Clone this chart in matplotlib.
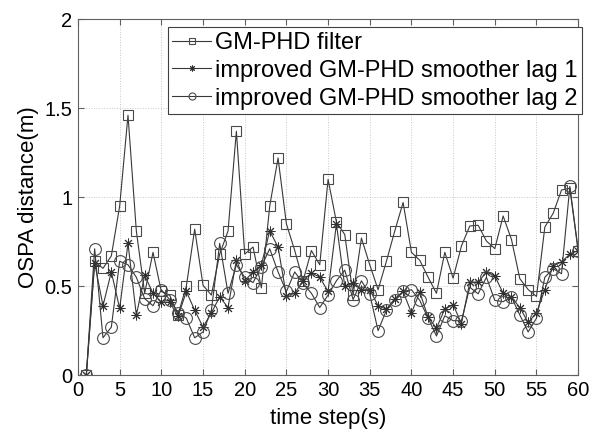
import matplotlib
matplotlib.use("Agg")
import matplotlib.pyplot as plt

plt.rcParams['font.family'] = ['Liberation Sans', 'DejaVu Sans']

# time steps 1..60
t = list(range(1, 61))

gm_phd = [0, 0.64, 0.60, 0.67, 0.95, 1.46, 0.81, 0.46, 0.69, 0.47,
          0.45, 0.34, 0.50, 0.82, 0.505, 0.45, 0.68, 0.81, 1.37, 0.68,
          0.72, 0.49, 0.95, 1.22, 0.85, 0.70, 0.53, 0.70, 0.62, 1.10,
          0.86, 0.79, 0.45, 0.77, 0.62, 0.48, 0.64, 0.81, 0.97, 0.69,
          0.645, 0.55, 0.46, 0.69, 0.545, 0.726, 0.838, 0.842, 0.753, 0.711,
          0.894, 0.762, 0.542, 0.481, 0.442, 0.832, 0.909, 1.04, 1.05, 0.70]

lag1 = [0, 0.63, 0.39, 0.58, 0.375, 0.74, 0.337, 0.56, 0.46, 0.41,
        0.41, 0.33, 0.47, 0.365, 0.27, 0.35, 0.44, 0.38, 0.646, 0.53,
        0.58, 0.62, 0.81, 0.72, 0.445, 0.46, 0.53, 0.575, 0.55, 0.47,
        0.85, 0.50, 0.515, 0.48, 0.48, 0.39, 0.37, 0.43, 0.47, 0.35,
        0.466, 0.325, 0.264, 0.372, 0.396, 0.29, 0.523, 0.523, 0.579, 0.557,
        0.46, 0.438, 0.38, 0.296, 0.35, 0.48, 0.615, 0.636, 0.68, 0.70]

lag2 = [0, 0.71, 0.21, 0.27, 0.64, 0.62, 0.55, 0.43, 0.39, 0.48,
        0.425, 0.35, 0.32, 0.21, 0.243, 0.365, 0.74, 0.46, 0.62, 0.55,
        0.52, 0.61, 0.71, 0.58, 0.47, 0.58, 0.515, 0.46, 0.38, 0.45,
        0.53, 0.59, 0.425, 0.53, 0.455, 0.25, 0.365, 0.42, 0.47, 0.48,
        0.42, 0.32, 0.22, 0.334, 0.306, 0.306, 0.494, 0.457, 0.55, 0.42,
        0.413, 0.438, 0.338, 0.243, 0.32, 0.55, 0.598, 0.57, 1.06, 0.70]

labels = ['GM-PHD filter', 'improved GM-PHD smoother lag 1',
          'improved GM-PHD smoother lag 2']

fig = plt.figure(figsize=(5.93, 4.44), dpi=100)
ax = fig.add_axes([0.1315, 0.155, 0.8435, 0.802])

line_c = '#383838'
ax.plot(t, gm_phd, '-', color=line_c, lw=0.8, marker='s', ms=6.5,
        mfc='none', mec='#4a4a4a', mew=0.8, label=labels[0])
ax.plot(t, lag1, '-', color=line_c, lw=0.8, marker=(8, 2, 0), ms=7,
        mfc='none', mec='#303030', mew=0.7, label=labels[1])
ax.plot(t, lag2, '-', color=line_c, lw=0.8, marker='o', ms=8.5,
        mfc='none', mec='#4a4a4a', mew=0.8, label=labels[2])

ax.set_xlim(0, 60)
ax.set_ylim(0, 2)
ax.set_xticks(range(0, 61, 5))
ax.set_yticks([0, 0.5, 1, 1.5, 2])
ax.set_yticklabels(['0', '0.5', '1', '1.5', '2'])
ax.grid(True, linestyle=':', color='#c8c8c8', lw=0.7)
ax.tick_params(direction='in', top=True, right=True, labelsize=14.5,
               color='#606060', length=4, pad=4)
for s in ax.spines.values():
    s.set_color('#606060')
    s.set_linewidth(0.8)

ax.set_xlabel('time step(s)', fontsize=16, labelpad=6)
ax.set_ylabel('OSPA distance(m)', fontsize=16, labelpad=4)

leg = ax.legend(loc='upper right', bbox_to_anchor=(1.008, 0.9775), fontsize=17,
                frameon=True, fancybox=False, borderpad=0.2, labelspacing=0.25,
                handlelength=1.65, handletextpad=0.15, borderaxespad=0,
                markerscale=0.6)
leg.get_frame().set_edgecolor('#404040')
leg.get_frame().set_linewidth(0.8)
leg.get_frame().set_alpha(1)

fig.savefig('out.png', dpi=100)
